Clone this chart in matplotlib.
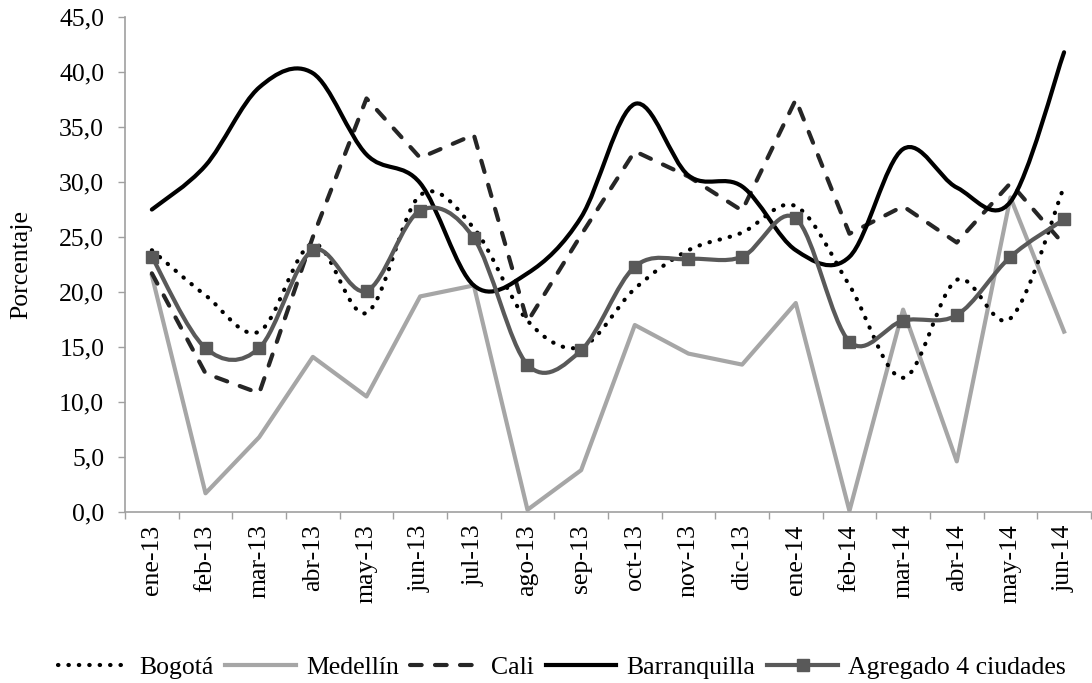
import numpy as np
import matplotlib.pyplot as plt
from matplotlib.path import Path
from matplotlib.patches import PathPatch
from matplotlib.lines import Line2D

plt.rcParams['font.family'] = ['Liberation Serif', 'DejaVu Serif']

meses = ["ene-13", "feb-13", "mar-13", "abr-13", "may-13", "jun-13", "jul-13",
         "ago-13", "sep-13", "oct-13", "nov-13", "dic-13", "ene-14", "feb-14",
         "mar-14", "abr-14", "may-14", "jun-14"]

bogota = [23.8, 19.7, 16.4, 24.4, 18.1, 28.8, 25.8, 17.4, 15.0, 20.3,
          23.8, 25.4, 27.8, 20.6, 12.2, 21.1, 17.6, 29.6]
medellin = [21.5, 1.7, 6.8, 14.1, 10.5, 19.6, 20.6, 0.2, 3.8, 17.0,
            14.4, 13.4, 19.0, 0.1, 18.4, 4.6, 28.6, 16.4]
cali = [21.7, 12.6, 10.8, 25.0, 37.6, 32.2, 34.3, 17.3, 25.2, 32.8,
        30.5, 27.4, 37.5, 25.3, 27.8, 24.5, 29.9, 24.3]
barranquilla = [27.5, 31.5, 38.6, 39.9, 32.5, 29.9, 20.6, 21.7, 26.8, 37.1,
                30.6, 29.6, 23.8, 23.2, 33.0, 29.5, 28.2, 41.8]
agregado = [23.2, 14.9, 14.9, 23.8, 20.1, 27.4, 24.9, 13.4, 14.7, 22.3,
            23.0, 23.2, 26.7, 15.5, 17.4, 17.9, 23.2, 26.6]

x = np.arange(len(meses))


def smooth_path(xs, ys):
    # Excel-like smoothed line: cubic bezier segments through the points
    pts = np.column_stack([xs, ys]).astype(float)
    n = len(pts)
    verts = [pts[0]]
    codes = [Path.MOVETO]
    for i in range(n - 1):
        p0 = pts[i - 1] if i > 0 else pts[i]
        p1 = pts[i]
        p2 = pts[i + 1]
        p3 = pts[i + 2] if i + 2 < n else pts[i + 1]
        c1 = p1 + (p2 - p0) / 6.0
        c2 = p2 - (p3 - p1) / 6.0
        verts += [c1, c2, p2]
        codes += [Path.CURVE4] * 3
    return Path(verts, codes)


fig, ax = plt.subplots(figsize=(10.92, 6.83), dpi=100)
fig.subplots_adjust(left=0.1145, right=0.999, bottom=0.2504, top=0.975)

fs = 18.5
lw = 3.0
c_bog = 'black'
c_med = '#a6a6a6'
c_cali = '#262626'
c_barr = 'black'
c_agr = '#595959'
dots = (0, (0.1, 2.4))
dashes = (0, (2.8, 3.2))

ax.add_patch(PathPatch(smooth_path(x, bogota), fill=False, edgecolor=c_bog, lw=lw,
                       linestyle=dots, capstyle='round', zorder=3))
ax.plot(x, medellin, color=c_med, lw=lw, zorder=2)
ax.plot(x, cali, color=c_cali, lw=lw, linestyle=dashes, dash_capstyle='round', zorder=3)
ax.add_patch(PathPatch(smooth_path(x, barranquilla), fill=False, edgecolor=c_barr,
                       lw=lw, capstyle='round', zorder=4))
ax.add_patch(PathPatch(smooth_path(x, agregado), fill=False, edgecolor=c_agr,
                       lw=lw, zorder=5))
ax.plot(x, agregado, linestyle='none', marker='s', markersize=8.5,
        color=c_agr, zorder=6)

ax.set_xlim(-0.5, len(meses) - 0.5)
ax.set_ylim(0, 45)
ax.set_yticks(np.arange(0, 46, 5))
ax.set_yticklabels([("%.1f" % v).replace('.', ',') for v in np.arange(0, 46, 5)],
                   fontsize=fs)
ax.set_xticks(x)
ax.set_xticklabels(meses, rotation=90, fontsize=fs)
ax.set_xticks(np.arange(-0.5, len(meses), 1), minor=True)
ax.tick_params(axis='x', which='major', length=0, pad=9)
ax.tick_params(axis='x', which='minor', length=5, color='#a0a0a0', width=1)
ax.tick_params(axis='y', length=5, color='#a0a0a0', width=1, pad=10)

for s in ['top', 'right']:
    ax.spines[s].set_visible(False)
for s in ['left', 'bottom']:
    ax.spines[s].set_color('#a0a0a0')
    ax.spines[s].set_linewidth(1.2)

ax.set_ylabel("Porcentaje", fontsize=fs)
ax.yaxis.set_label_coords(-0.096, 0.5)

handles = [
    Line2D([], [], color=c_bog, lw=lw, linestyle=dots, dash_capstyle='round'),
    Line2D([], [], color=c_med, lw=lw),
    Line2D([], [], color=c_cali, lw=lw, linestyle=dashes, dash_capstyle='round'),
    Line2D([], [], color=c_barr, lw=lw),
    Line2D([], [], color=c_agr, lw=lw, marker='s', markersize=8.5),
]
labels = ["Bogotá", "Medellín", "Cali", "Barranquilla", "Agregado 4 ciudades"]
fig.legend(handles, labels, loc='center', bbox_to_anchor=(0.5147, 0.022), ncol=5,
           frameon=False, fontsize=fs, handlelength=2.75, handletextpad=0.4,
           columnspacing=0.45, borderpad=0, borderaxespad=0)

plt.savefig('out.png', dpi=100)
